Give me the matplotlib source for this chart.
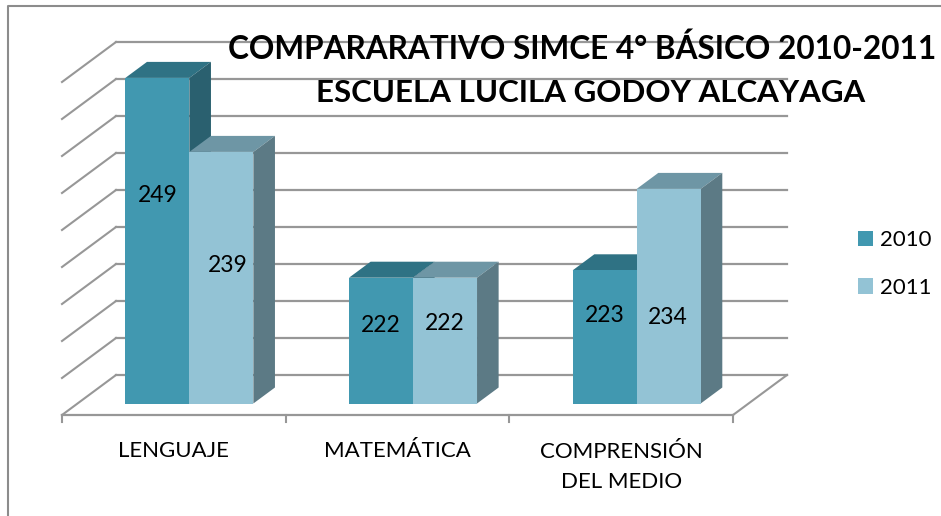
import matplotlib
matplotlib.use('Agg')
import matplotlib.pyplot as plt
from matplotlib.patches import Patch, Polygon

plt.rcParams['font.family'] = ['Lato', 'DejaVu Sans']

categories = ['LENGUAJE', 'MATEMÁTICA', 'COMPRENSIÓN\nDEL MEDIO']
years = ['2010', '2011']
values_2010 = [249, 222, 223]
values_2011 = [239, 222, 234]
grid_values = [205, 210, 215, 220, 225, 230, 235, 240, 245, 250]

W, H = 941, 516
PX_X = 223.67   # pixels for one category
PX_Y = 7.4      # pixels for one score point
X0_PX, FLOOR_PX = 62, 415
BASE = 205

# depth of the floor, in data units
DX = 54 / PX_X
DY = 40 / PX_Y
BAR_FRONT = 0.2875
BAR_BACK = 0.6875
BAR_W = 64 / PX_X

# front colour, top colour, side colour
colors_2010 = ('#4198B0', '#2F7284', '#2A606F')
colors_2011 = ('#93C3D5', '#6E96A5', '#5C7A85')
GRID = '#979797'


def pt(x, v, d):
    return (x + d * DX, v + d * DY)


fig = plt.figure(figsize=(W / 100, H / 100), dpi=100)
ax = fig.add_axes([0, 0, 1, 1])
ax.set_xlim(-X0_PX / PX_X, (W - X0_PX) / PX_X)
ax.set_ylim(BASE - (H - FLOOR_PX) / PX_Y, BASE + FLOOR_PX / PX_Y)
ax.axis('off')

# walls
for v in grid_values:
    back = pt(0, v, 1)
    left = pt(0, v, 0)
    ax.plot([left[0], back[0]], [left[1], back[1]], color=GRID, lw=1.5, zorder=1)
    end = pt(3, v, 1)
    ax.plot([back[0], end[0]], [back[1], end[1]], color=GRID, lw=1.6, zorder=1)

# floor
ax.plot([0, 3], [BASE, BASE], color=GRID, lw=1.6, zorder=1)
a, b = pt(3, BASE, 0), pt(3, BASE, 1)
ax.plot([a[0], b[0]], [a[1], b[1]], color=GRID, lw=1.5, zorder=1)
for t in range(4):
    ax.plot([t, t], [BASE, BASE - 7 / PX_Y], color=GRID, lw=1.5, zorder=1)


def draw_bar(x, val, cols, z):
    y0 = BASE + BAR_FRONT * DY
    fx = x + BAR_FRONT * DX
    ax.bar(fx, val - BASE, BAR_W, bottom=y0, align='edge', color=cols[0], zorder=z + 1)
    step = BAR_BACK - BAR_FRONT
    top_l = (fx, val + BAR_FRONT * DY)
    top_r = (fx + BAR_W, val + BAR_FRONT * DY)
    back_l = (fx + step * DX, val + BAR_BACK * DY)
    back_r = (fx + BAR_W + step * DX, val + BAR_BACK * DY)
    low_r = (fx + BAR_W, y0)
    low_b = (fx + BAR_W + step * DX, BASE + BAR_BACK * DY)
    ax.add_patch(Polygon([top_l, top_r, back_r, back_l], color=cols[1], lw=0, zorder=z))
    ax.add_patch(Polygon([top_r, back_r, low_b, low_r], color=cols[2], lw=0, zorder=z))


# group starts in front-plane units, 2010 bar then 2011 bar
for i in range(len(categories)):
    start = i + 0.5 - BAR_W
    draw_bar(start, values_2010[i], colors_2010, 2)
    draw_bar(start + BAR_W, values_2011[i], colors_2011, 4)


def px(x, y, s, **kw):
    ax.text(x / W, 1 - y / H, s, transform=ax.transAxes, ha='center', va='center', **kw)


# value labels
label_xy_2010 = [(158, 195), (381, 325), (605, 316)]
label_xy_2011 = [(228, 265), (445, 324), (668, 317)]
for i in range(3):
    px(*label_xy_2010[i], str(values_2010[i]), fontsize=16.5, color='black', zorder=10)
    px(*label_xy_2011[i], str(values_2011[i]), fontsize=16.5, color='black', zorder=10)

# category labels
cat_y = [451, 451, 467]
for i, name in enumerate(categories):
    px(X0_PX + PX_X * (i + 0.5), cat_y[i], name, fontsize=16, color='black',
       linespacing=1.65, zorder=10)

# title
px(582, 49, 'COMPARARATIVO SIMCE 4° BÁSICO 2010-2011', fontsize=22.7, fontweight='bold',
   color='black', zorder=12)
px(591, 93, 'ESCUELA LUCILA GODOY ALCAYAGA', fontsize=22.5, fontweight='bold',
   color='black', zorder=12)

handles = [Patch(color=colors_2010[0], lw=0), Patch(color=colors_2011[0], lw=0)]
ax.legend(handles, years, loc='center left', bbox_to_anchor=(858 / W, 1 - 264 / H), frameon=False,
          fontsize=16, handlelength=0.68, handleheight=0.68, handletextpad=0.31,
          labelspacing=1.24, borderpad=0, borderaxespad=0)

# chart area border, only top and left are visible
ax.plot([8 / W, 8 / W, 1], [0, 1 - 6 / H, 1 - 6 / H], color='#8c8c8c', lw=1.5,
        transform=ax.transAxes, zorder=0)

fig.savefig('out.png', dpi=100)
